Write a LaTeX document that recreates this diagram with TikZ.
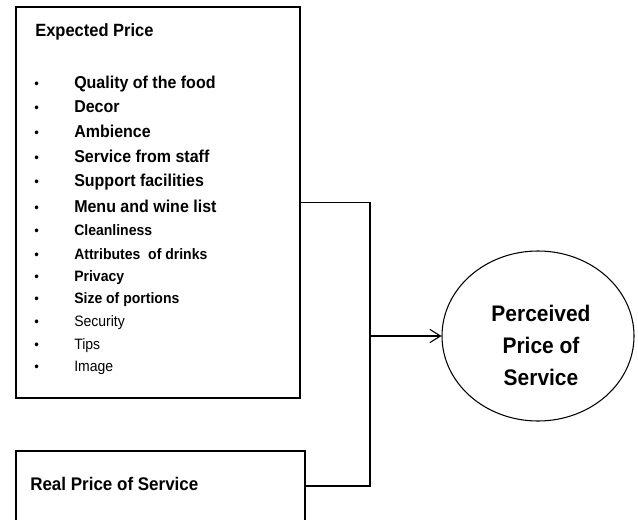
\documentclass[tikz,border=0pt]{standalone}
\usepackage{fontspec}
\setmainfont[FakeStretch=0.93]{Liberation Sans}
\usetikzlibrary{shapes.geometric,arrows.meta}

\tikzset{
  box/.style={draw, rectangle, inner sep=0pt, line width=0.8pt},
  head/.style={anchor=base west, inner sep=0pt, font=\bfseries\fontsize{13.3}{14}\selectfont},
  bigitem/.style={anchor=base west, inner sep=0pt, font=\bfseries\fontsize{12.9}{14}\selectfont},
  smallitem/.style={anchor=base west, inner sep=0pt, font=\bfseries\fontsize{11.3}{12}\selectfont},
  plainitem/.style={anchor=base west, inner sep=0pt, font=\fontsize{11.3}{12}\selectfont},
  dot/.style={anchor=base west, inner sep=0pt, font=\fontsize{10.5}{12}\selectfont},
  link/.style={line width=0.8pt}
}

\begin{document}
\begin{tikzpicture}[x=0.75pt, y=-0.75pt]
    \useasboundingbox (0,0) rectangle (638,520);

    % Boxes
    \node[box, minimum width=213pt, minimum height=293.25pt] (expect) at (158,202.5) {};
    \node[box, minimum width=216.75pt, minimum height=52.5pt] (real) at (160.5,486) {};
    \node[box, ellipse, minimum width=144pt, minimum height=127.5pt] (perceived) at (538,336) {};

    % Headings
    \node[head] (exphead) at (35,36.5) {Expected Price};
    \node[head, font=\bfseries\fontsize{13.7}{14}\selectfont] (realhead) at (30,490) {Real Price of Service};
    \node[align=center, font=\bfseries\fontsize{16.9}{24}\selectfont] (perclabel) at (541,345) {Perceived\\Price of\\Service};

    % Items
    \foreach \y/\txt/\sty [count=\i] in {
        89/Quality of the food/bigitem,
        113/Decor/bigitem,
        138/Ambience/bigitem,
        163/Service from staff/bigitem,
        187/Support facilities/bigitem,
        213/Menu and wine list/bigitem,
        235/Cleanliness/smallitem,
        259/Attributes\ \ of drinks/smallitem,
        281/Privacy/smallitem,
        303/Size of portions/smallitem,
        326/Security/plainitem,
        349/Tips/plainitem,
        371/Image/plainitem}
    {
        \node[dot] (b\i) at (34,\y) {•};
        \node[\sty] (item\i) at (74,\y) {\txt};
    }

    % Connectors
    \coordinate (join) at (370,336);
    \draw[link] (expect.east) -| (join) |- (real.east);
    \draw[link, -{Straight Barb[length=8pt, width=10pt]}] (join) -- (perceived.west);

\end{tikzpicture}
\end{document}
